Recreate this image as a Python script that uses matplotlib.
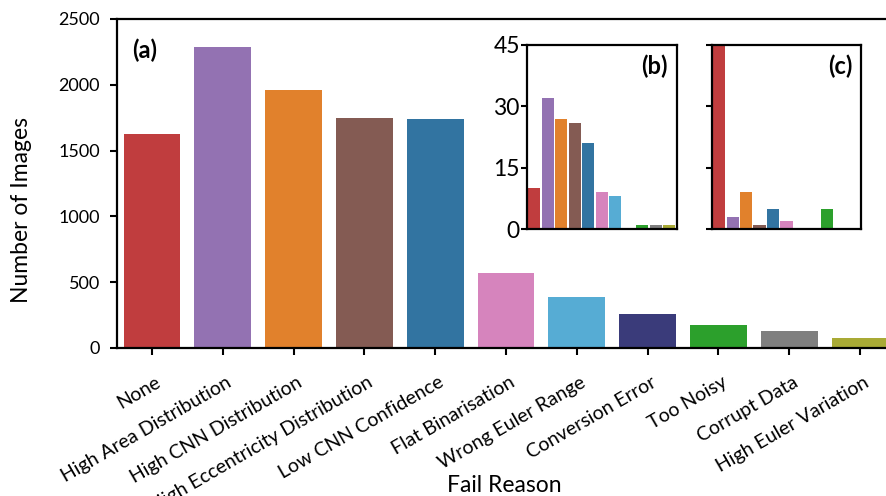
import matplotlib
matplotlib.use("Agg")
import matplotlib.pyplot as plt
import matplotlib.transforms as mtransforms
import numpy as np

plt.rcParams["font.family"] = ["Lato", "DejaVu Sans"]

reasons = ["None", "High Area Distribution", "High CNN Distribution",
           "High Eccentricity Distribution", "Low CNN Confidence",
           "Flat Binarisation", "Wrong Euler Range", "Conversion Error",
           "Too Noisy", "Corrupt Data", "High Euler Variation"]
counts_a = [1628, 2285, 1960, 1748, 1740, 570, 390, 258, 175, 130, 76]
counts_b = [10, 32, 27, 26, 21, 9, 8, 0, 1, 1, 1]
counts_c = [100, 3, 9, 1, 5, 2, 0, 0, 5, 0, 0]
colors = ["#C03D3E", "#9372B2", "#E1812C", "#845B53", "#3274A1", "#D684BD",
          "#56ACD4", "#3A3B7A", "#2CA02C", "#7F7F7F", "#A9AA35"]

fig = plt.figure(figsize=(8.86, 4.96), dpi=100)
x = np.arange(len(reasons))

# main panel (a) -- runs slightly past the right edge, like the cropped original
ax = fig.add_axes([0.1316, 0.2984, 0.879, 0.6633])
ax.bar(x, counts_a, width=0.8, color=colors)
ax.set_xlim(-0.5, 10.5)
ax.set_ylim(0, 2500)
ax.set_yticks([0, 500, 1000, 1500, 2000, 2500])
ax.set_xticks(x)
ax.set_xticklabels(reasons, rotation=30, ha="right", rotation_mode="anchor",
                   fontsize=14)
ax.tick_params(axis="y", labelsize=13, width=1.5, length=5, pad=7)
ax.tick_params(axis="x", width=1.5, length=5, pad=7)
# nudge the rotated labels down/right a bit
shift = mtransforms.ScaledTranslation(3 / 100, -9 / 100, fig.dpi_scale_trans)
for lab in ax.get_xticklabels():
    lab.set_transform(lab.get_transform() + shift)
for s in ax.spines.values():
    s.set_linewidth(1.6)
ax.spines["right"].set_visible(False)
ax.set_ylabel("Number of Images", fontsize=16.5)
ax.yaxis.set_label_coords(-0.108, 0.418)
ax.set_xlabel("Fail Reason", fontsize=16.5, va="baseline")
ax.xaxis.set_label_coords(0.4974, -0.4377)
ax.text(0.0198, 0.942, "(a)", transform=ax.transAxes, fontsize=17,
        fontweight="bold", va="top", ha="left")

# inset (b)
axb = fig.add_axes([0.5945, 0.5383, 0.1693, 0.371])
axb.bar(x, counts_b, width=0.9, color=colors)
axb.set_xlim(-0.55, 10.55)
axb.set_ylim(0, 45)
axb.set_yticks([0, 15, 30, 45])
axb.set_xticks([])
axb.tick_params(axis="y", labelsize=16.5, width=1.5, length=4, pad=1)
for s in axb.spines.values():
    s.set_linewidth(1.6)
axb.text(0.942, 0.946, "(b)", transform=axb.transAxes, fontsize=17,
         fontweight="bold", va="top", ha="right")

# inset (c)
axc = fig.add_axes([0.8033, 0.5383, 0.1688, 0.371])
axc.bar(x, counts_c, width=0.9, color=colors)
axc.set_xlim(-0.55, 10.55)
axc.set_ylim(0, 45)
axc.set_yticks([0, 15, 30, 45])
axc.set_yticklabels([])
axc.set_xticks([])
axc.tick_params(axis="y", width=1.5, length=4)
for s in axc.spines.values():
    s.set_linewidth(1.6)
axc.text(0.938, 0.946, "(c)", transform=axc.transAxes, fontsize=17,
         fontweight="bold", va="top", ha="right")

fig.savefig("out.png", dpi=100)
